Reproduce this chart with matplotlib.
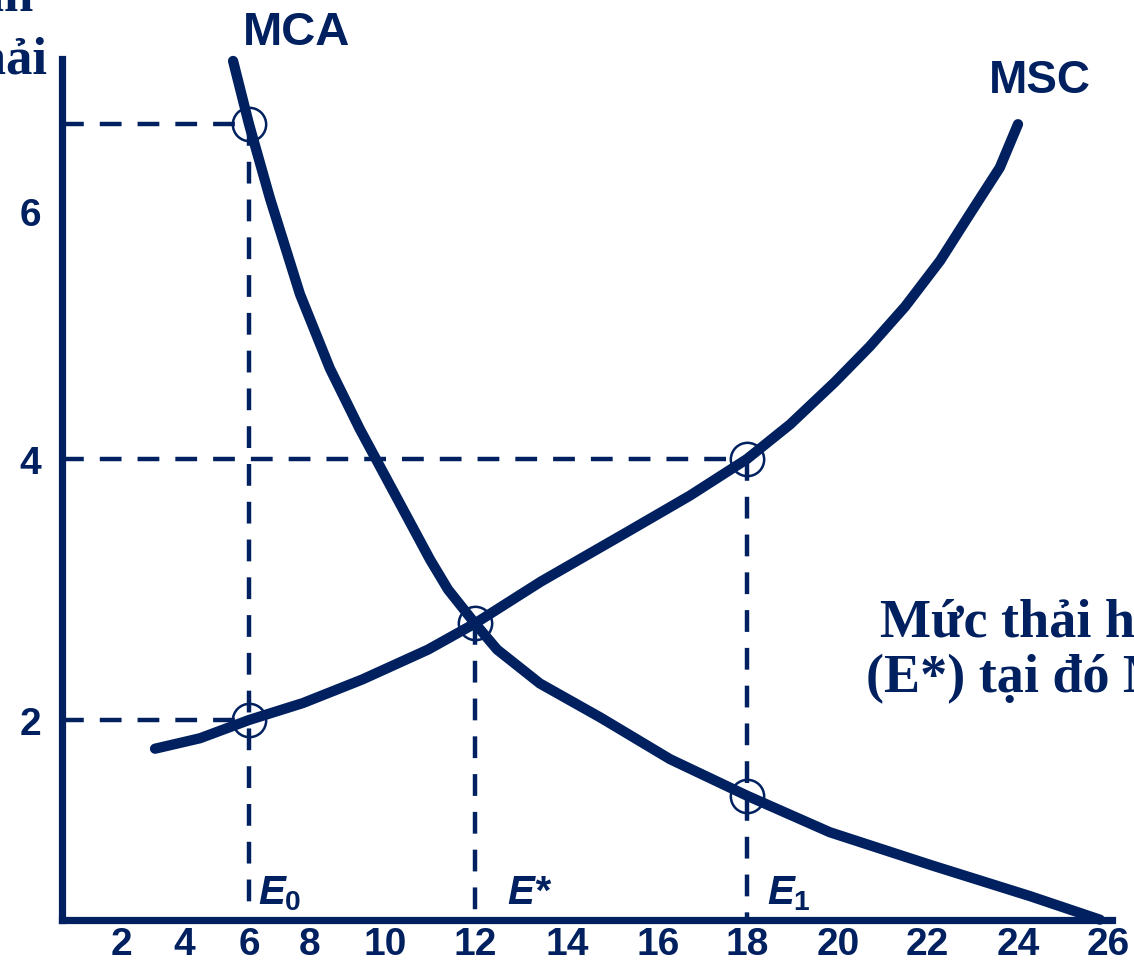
import numpy as np
import matplotlib
matplotlib.use('Agg')
import matplotlib.pyplot as plt
import matplotlib.transforms as mtransforms

NAVY = '#00205F'

# ---------------- data ----------------
x_tick_values = [2, 4, 6, 8, 10, 12, 14, 16, 18, 20, 22, 24, 26]
x_tick_labels = [str(v) for v in x_tick_values]
y_tick_values = [2, 4, 6]
y_tick_labels = ['2', '4', '6']

mca_x = [5.51, 6.0, 6.69, 7.67, 8.53, 9.33, 10.22, 11.0, 11.4, 12.0, 12.48,
         13.41, 14.73, 16.27, 18.0, 19.82, 22.07, 24.27, 25.82]
mca_y = [7.21, 6.70, 6.10, 5.33, 4.73, 4.24, 3.73, 3.23, 3.00, 2.74, 2.54,
         2.28, 2.02, 1.70, 1.42, 1.14, 0.89, 0.65, 0.47]

msc_x = [3.08, 4.49, 6.0, 7.77, 9.39, 10.96, 12.0, 13.43, 15.27, 16.72, 18.0,
         18.95, 19.93, 20.72, 21.51, 22.29, 22.95, 23.60, 24.0]
msc_y = [1.78, 1.86, 2.0, 2.13, 2.31, 2.54, 2.74, 3.06, 3.43, 3.72, 4.0,
         4.28, 4.62, 4.91, 5.23, 5.60, 5.98, 6.35, 6.70]

e0, e_star, e1 = 6, 12, 18
mca_at_e0 = 6.70
msc_at_e0 = 2.0
price_at_e_star = 2.74
msc_at_e1 = 4.0
mca_at_e1 = 1.42

# ---------------- hand-drawn axis scales (piecewise linear) ----------------
xk_v = np.array([-4, 0, 2, 4, 6, 8, 10, 12, 14, 16, 18, 20, 22, 24, 26, 30], float)
xk_p = np.array([-68, 58, 121, 184, 249, 310, 385, 475, 567, 658, 747, 838, 927,
                 1018, 1108, 1288], float)
yk_v = np.array([-4, 0, 2, 4, 6, 8, 12], float)
yk_h = np.array([-542, -20, 241, 502, 750, 998, 1494], float)


def fx(v):
    return np.interp(v, xk_v, xk_p)


def fx_inv(p):
    return np.interp(p, xk_p, xk_v)


def fy(v):
    return np.interp(v, yk_v, yk_h)


def fy_inv(h):
    return np.interp(h, yk_h, yk_v)


plt.rcParams['mathtext.fontset'] = 'custom'
plt.rcParams['mathtext.it'] = 'Liberation Sans:italic:bold'
plt.rcParams['mathtext.rm'] = 'Liberation Sans:bold'
plt.rcParams['mathtext.bf'] = 'Liberation Sans:bold'

W, H = 1134, 962
fig = plt.figure(figsize=(W / 100, H / 100), dpi=100)
ax = fig.add_axes([62 / W, 41 / H, 1050 / W, 861 / H])
ax.set_xscale('function', functions=(fx, fx_inv))
ax.set_yscale('function', functions=(fy, fy_inv))
xmin, xmax = float(fx_inv(62)), float(fx_inv(1112))
ymin, ymax = float(fy_inv(41)), float(fy_inv(902))
ax.set_xlim(xmin, xmax)
ax.set_ylim(ymin, ymax)

for s in ['top', 'right']:
    ax.spines[s].set_visible(False)
for s in ['left', 'bottom']:
    ax.spines[s].set_linewidth(5.2)
    ax.spines[s].set_color(NAVY)
    ax.spines[s].set_capstyle('projecting')

ax.set_xticks(x_tick_values)
ax.set_xticklabels(x_tick_labels)
ax.set_yticks(y_tick_values)
ax.set_yticklabels(y_tick_labels)
ax.xaxis.set_minor_locator(plt.NullLocator())
ax.yaxis.set_minor_locator(plt.NullLocator())
ax.tick_params(axis='both', length=0, colors=NAVY)
ax.tick_params(axis='x', pad=4)
ax.tick_params(axis='y', pad=15)
for lab in ax.get_xticklabels() + ax.get_yticklabels():
    lab.set_fontfamily('Liberation Sans')
    lab.set_fontweight('bold')
    lab.set_fontsize(28)

# ---------------- dashed guide lines ----------------
dash = dict(color=NAVY, lw=3.2, ls=(0, (4.9, 3.6)), solid_capstyle='butt',
            dash_capstyle='butt', zorder=2)
ax.plot([xmin, e0], [mca_at_e0, mca_at_e0], **dash)
ax.plot([xmin, e1], [msc_at_e1, msc_at_e1], **dash)
ax.plot([xmin, e0], [msc_at_e0, msc_at_e0], **dash)
ax.plot([e0, e0], [mca_at_e0, ymin], **dash)
ax.plot([e_star, e_star], [price_at_e_star, ymin], **dash)
ax.plot([e1, e1], [msc_at_e1, ymin], **dash)

# ---------------- curves ----------------
ax.plot(mca_x, mca_y, color=NAVY, lw=7.4, solid_capstyle='round',
        solid_joinstyle='round', zorder=3, clip_on=False)
ax.plot(msc_x, msc_y, color=NAVY, lw=7.4, solid_capstyle='round',
        solid_joinstyle='round', zorder=3, clip_on=False)

# ---------------- circles ----------------
cx = [e0, e0, e_star, e1, e1]
cy = [mca_at_e0, msc_at_e0, price_at_e_star, msc_at_e1, mca_at_e1]
ax.plot(cx, cy, ls='none', marker='o', ms=24, mfc='none', mec=NAVY, mew=1.8,
        zorder=4)

# ---------------- E labels ----------------
blend = mtransforms.blended_transform_factory(ax.transData, ax.transAxes)
e_texts = [(e0, r'$\mathit{E}_{\mathit{0}}$', 9), (e_star, r'$\mathit{E}$*', 32),
           (e1, r'$\mathit{E}_{\mathit{1}}$', 20)]
for xv, t, off in e_texts:
    tr = blend + mtransforms.ScaledTranslation(off / 100, 17 / 100, fig.dpi_scale_trans)
    ax.text(xv, 0, t, transform=tr, fontsize=29, color=NAVY, ha='left',
            va='baseline', fontfamily='Liberation Sans', fontweight='bold',
            fontstyle='italic')


# ---------------- other text ----------------
def px(x, y):
    return x / W, 1 - y / H


fig.text(*px(243, 45), 'MCA', fontsize=34, fontweight='bold', color=NAVY,
         fontfamily='Liberation Sans', ha='left', va='baseline')
fig.text(*px(989, 93), 'MSC', fontsize=33, fontweight='bold', color=NAVY,
         fontfamily='Liberation Sans', ha='left', va='baseline')

serif = ['Liberation Serif', 'DejaVu Serif']
fig.text(*px(33, 12), 'tấn', fontsize=38, fontweight='bold', color=NAVY,
         family=serif, ha='right', va='baseline')
fig.text(*px(47, 74), 'thải', fontsize=38, fontweight='bold', color=NAVY,
         family=serif, ha='right', va='baseline')
fig.text(*px(880, 637), 'Mức thải hiệu quả', fontsize=39, fontweight='bold',
         color=NAVY, family=serif, ha='left', va='baseline')
fig.text(*px(866, 692), '(E*) tại đó MCA = MSC', fontsize=39, fontweight='bold',
         color=NAVY, family=serif, ha='left', va='baseline')

fig.savefig('out.png', dpi=100)
